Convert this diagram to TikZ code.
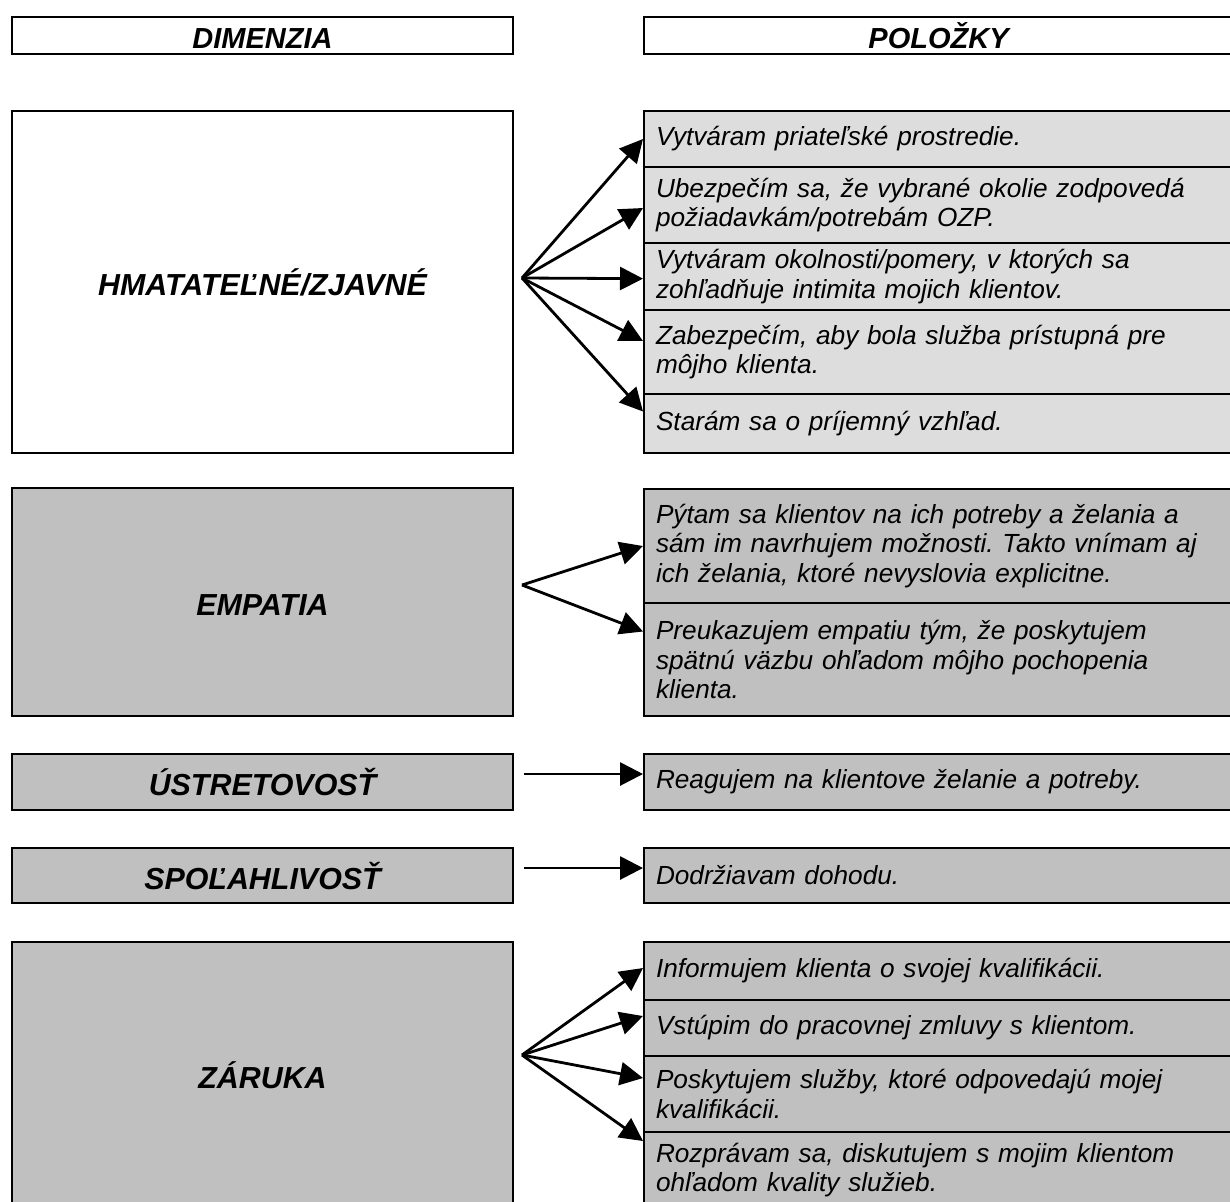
\documentclass[tikz,border=0pt]{standalone}
\usepackage{fontspec}
\setmainfont{Liberation Sans}
\usetikzlibrary{arrows.meta}
\frenchspacing
\definecolor{lightfill}{RGB}{221,221,221}
\definecolor{darkfill}{RGB}{192,192,192}
\tikzset{
  headbox/.style={draw, line width=1pt, anchor=north west, minimum height=18.5pt,
    inner ysep=1pt, text height=13.4pt, text depth=0pt,
    font=\bfseries\itshape\fontsize{14.5}{16}\selectfont},
  dimbox/.style={draw, line width=1pt, anchor=north west, minimum width=250.5pt,
    text height=13.9pt, text depth=0pt,
    font=\bfseries\itshape\fontsize{15.2}{17}\selectfont},
  itembox/.style={draw, line width=1pt, anchor=north west, minimum width=295pt,
    text width=283pt, inner xsep=6pt, align=left,
    font=\itshape\fontsize{13.1}{14.6}\selectfont},
}
\begin{document}
\begin{tikzpicture}[x=0.5pt, y=-0.5pt,
  link/.style={line width=1.4pt, -{Triangle[length=11.5pt,width=11.5pt]}}]
\useasboundingbox (0,0) rectangle (1230,1201);

% headers
\node[headbox, minimum width=250.5pt] (dim) at (11,16) {DIMENZIA};
\node[headbox, minimum width=294.5pt] (pol) at (643,16) {POLOŽKY};

% dimensions
\node[dimbox, fill=white, minimum height=171pt] (h) at (11,110) {HMATATEĽNÉ/ZJAVNÉ};
\node[dimbox, fill=darkfill, minimum height=114pt] (e) at (11,487) {EMPATIA};
\node[dimbox, fill=darkfill, minimum height=28pt] (u) at (11,753) {ÚSTRETOVOSŤ};
\node[dimbox, fill=darkfill, minimum height=27.5pt] (s) at (11,847) {SPOĽAHLIVOSŤ};
\node[dimbox, fill=darkfill, minimum height=133pt] (z) at (11,941) {ZÁRUKA};

% items
\node[itembox, fill=lightfill, minimum height=28pt] (h1) at (643,110) {Vytváram priateľské prostredie.};
\node[itembox, fill=lightfill, minimum height=38pt] (h2) at (643,166) {Ubezpečím sa, že vybrané okolie zodpovedá\\ požiadavkám/potrebám OZP.};
\node[itembox, fill=lightfill, minimum height=33.5pt] (h3) at (643,242) {Vytváram okolnosti/pomery, v ktorých sa\\ zohľadňuje intimita mojich klientov.};
\node[itembox, fill=lightfill, minimum height=42pt] (h4) at (643,309) {Zabezpečím, aby bola služba prístupná pre\\ môjho klienta.};
\node[itembox, fill=lightfill, minimum height=29.5pt] (h5) at (643,393) {Starám sa o príjemný vzhľad.};

\node[itembox, fill=darkfill, minimum height=57pt] (e1) at (643,488) {Pýtam sa klientov na ich potreby a želania a\\ sám im navrhujem možnosti. Takto vnímam aj\\ ich želania, ktoré nevyslovia explicitne.};
\node[itembox, fill=darkfill, minimum height=56.5pt] (e2) at (643,602) {Preukazujem empatiu tým, že poskytujem\\ spätnú väzbu ohľadom môjho pochopenia\\ klienta.};

\node[itembox, fill=darkfill, minimum height=28pt] (u1) at (643,753) {Reagujem na klientove želanie a potreby.};
\node[itembox, fill=darkfill, minimum height=27.5pt] (s1) at (643,847) {Dodržiavam dohodu.};

\node[itembox, fill=darkfill, minimum height=29pt] (z1) at (643,941) {Informujem klienta o svojej kvalifikácii.};
\node[itembox, fill=darkfill, minimum height=28pt] (z2) at (643,999) {Vstúpim do pracovnej zmluvy s klientom.};
\node[itembox, fill=darkfill, minimum height=38pt] (z3) at (643,1055) {Poskytujem služby, ktoré odpovedajú mojej\\ kvalifikácii.};
\node[itembox, fill=darkfill, minimum height=38pt] (z4) at (643,1131) {Rozprávam sa, diskutujem s mojim klientom\\ ohľadom kvality služieb.};

% fan origins
\coordinate (ho) at (522,278);
\coordinate (eo) at (522,585);
\coordinate (zo) at (522,1055);

\path[draw,link] (ho) -- (h1.west);
\path[draw,link] (ho) -- ([yshift=-1.5pt]h2.west);
\path[draw,link] (ho) -- ([yshift=-1pt]h3.west);
\path[draw,link] (ho) -- ([yshift=5.5pt]h4.west);
\path[draw,link] (ho) -- ([yshift=6pt]h5.west);

\path[draw,link] (eo) -- (e1.west);
\path[draw,link] (eo) -- ([yshift=14pt]e2.west);

\path[draw,link] ([xshift=5pt,yshift=4pt]u.east) -- ([yshift=4pt]u1.west);
\path[draw,link] ([xshift=5pt,yshift=3.75pt]s.east) -- ([yshift=3.75pt]s1.west);

\path[draw,link] (zo) -- ([yshift=1.5pt]z1.west);
\path[draw,link] (zo) -- ([yshift=6pt]z2.west);
\path[draw,link] (zo) -- ([yshift=8pt]z3.west);
\path[draw,link] (zo) -- ([yshift=14.5pt]z4.west);
\end{tikzpicture}
\end{document}
